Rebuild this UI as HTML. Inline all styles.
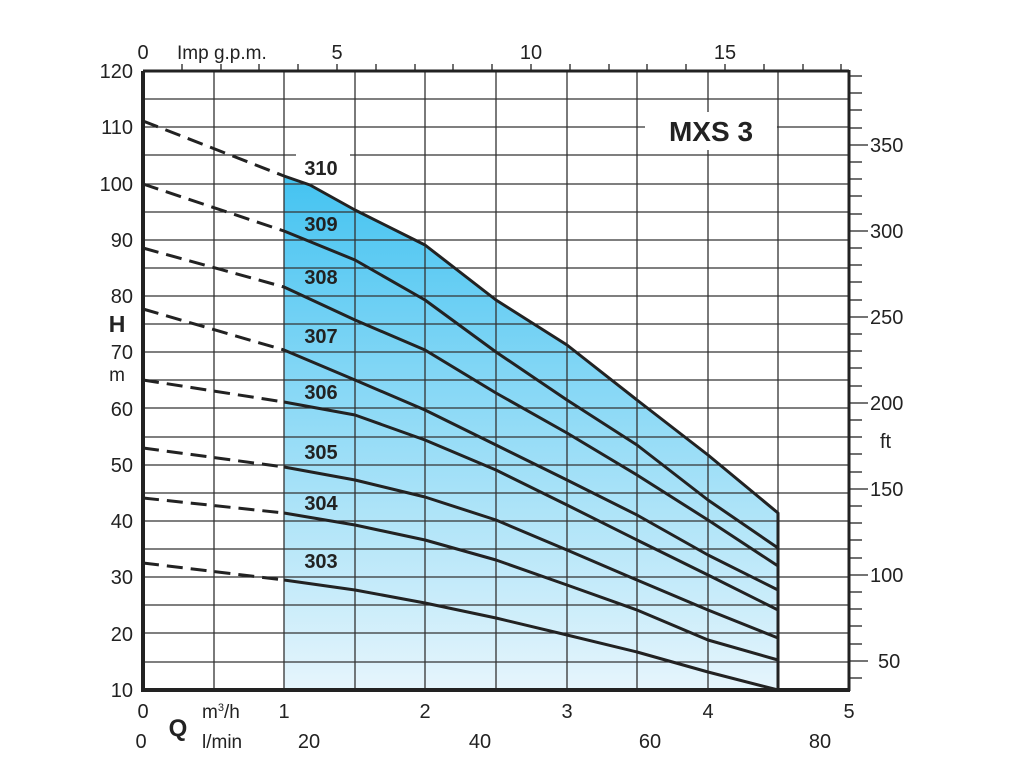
<!DOCTYPE html>
<html><head><style>body{margin:0;background:#fff}svg{display:block}text{font-family:"Liberation Sans",sans-serif;fill:#222}</style></head>
<body>
<svg width="1024" height="768" viewBox="0 0 1024 768">
<defs><linearGradient id="g" x1="0" y1="0" x2="0" y2="1">
<stop offset="0" stop-color="#44c3f1"/><stop offset="1" stop-color="#e6f5fc"/></linearGradient></defs>
<polygon fill="url(#g)" points="284,690 284,176 310,185 355,210 425,245 496,300 567,345 637,400 708,455 778,513 778,690"/>
<g stroke="#333" stroke-width="1.3">
<line x1="214" y1="71" x2="214" y2="690"/><line x1="284" y1="71" x2="284" y2="690"/><line x1="355" y1="71" x2="355" y2="690"/><line x1="425" y1="71" x2="425" y2="690"/><line x1="496" y1="71" x2="496" y2="690"/><line x1="567" y1="71" x2="567" y2="690"/><line x1="637" y1="71" x2="637" y2="690"/><line x1="708" y1="71" x2="708" y2="690"/><line x1="778" y1="71" x2="778" y2="690"/>
<line x1="143" y1="99" x2="849" y2="99"/><line x1="143" y1="127" x2="849" y2="127"/><line x1="143" y1="155" x2="849" y2="155"/><line x1="143" y1="184" x2="849" y2="184"/><line x1="143" y1="212" x2="849" y2="212"/><line x1="143" y1="240" x2="849" y2="240"/><line x1="143" y1="268" x2="849" y2="268"/><line x1="143" y1="296" x2="849" y2="296"/><line x1="143" y1="324" x2="849" y2="324"/><line x1="143" y1="352" x2="849" y2="352"/><line x1="143" y1="380" x2="849" y2="380"/><line x1="143" y1="408" x2="849" y2="408"/><line x1="143" y1="437" x2="849" y2="437"/><line x1="143" y1="465" x2="849" y2="465"/><line x1="143" y1="493" x2="849" y2="493"/><line x1="143" y1="521" x2="849" y2="521"/><line x1="143" y1="549" x2="849" y2="549"/><line x1="143" y1="577" x2="849" y2="577"/><line x1="143" y1="605" x2="849" y2="605"/><line x1="143" y1="633" x2="849" y2="633"/><line x1="143" y1="662" x2="849" y2="662"/>
</g>
<rect x="296" y="150" width="54" height="26" fill="#fff"/>
<rect x="645" y="112" width="132" height="38" fill="#fff"/>
<text x="711" y="141" font-size="28" font-weight="bold" text-anchor="middle">MXS 3</text>
<g fill="none" stroke="#222" stroke-width="3" stroke-dasharray="16,8">
<line x1="143" y1="121" x2="284" y2="176"/><line x1="143" y1="184" x2="284" y2="231"/><line x1="143" y1="248" x2="284" y2="287"/><line x1="143" y1="309" x2="284" y2="350"/><line x1="143" y1="380" x2="284" y2="402"/><line x1="143" y1="448" x2="284" y2="467"/><line x1="143" y1="498" x2="284" y2="513"/><line x1="143" y1="563" x2="284" y2="580"/>
</g>
<g fill="none" stroke="#222" stroke-width="3" stroke-linejoin="round">
<polyline points="284,176 310,185 355,210 425,245 496,300 567,345 637,400 708,455 778,513 778,690"/>
<polyline points="284,231 355,260 425,300 496,352 567,400 637,445 708,500 778,548"/>
<polyline points="284,287 355,320 425,350 496,393 567,433 637,475 708,520 778,566"/>
<polyline points="284,350 355,380 425,410 496,445 567,480 637,515 708,555 778,590"/>
<polyline points="284,402 355,415 425,440 496,470 567,505 637,540 708,575 778,610"/>
<polyline points="284,467 355,480 425,497 496,520 567,550 637,580 708,610 778,638"/>
<polyline points="284,513 355,525 425,540 496,560 567,585 637,610 708,640 778,660"/>
<polyline points="284,580 355,590 425,603 496,618 567,635 637,652 708,672 778,690"/>
</g>
<g font-size="20" font-weight="bold" text-anchor="middle">
<text x="321" y="175">310</text><text x="321" y="231">309</text><text x="321" y="284">308</text><text x="321" y="343">307</text><text x="321" y="399">306</text><text x="321" y="459">305</text><text x="321" y="510">304</text><text x="321" y="568">303</text>
</g>
<g fill="none" stroke="#222">
<line x1="143" y1="71" x2="143" y2="691" stroke-width="4"/>
<line x1="141" y1="690" x2="850" y2="690" stroke-width="4"/>
<line x1="143" y1="71" x2="849" y2="71" stroke-width="3"/>
<line x1="849" y1="70" x2="849" y2="691" stroke-width="3"/>
</g>
<g stroke="#222" stroke-width="1.3">
<line x1="182" y1="71" x2="182" y2="64"/><line x1="221" y1="71" x2="221" y2="64"/><line x1="259" y1="71" x2="259" y2="64"/><line x1="298" y1="71" x2="298" y2="64"/><line x1="337" y1="71" x2="337" y2="64"/><line x1="376" y1="71" x2="376" y2="64"/><line x1="415" y1="71" x2="415" y2="64"/><line x1="453" y1="71" x2="453" y2="64"/><line x1="492" y1="71" x2="492" y2="64"/><line x1="531" y1="71" x2="531" y2="64"/><line x1="570" y1="71" x2="570" y2="64"/><line x1="609" y1="71" x2="609" y2="64"/><line x1="647" y1="71" x2="647" y2="64"/><line x1="686" y1="71" x2="686" y2="64"/><line x1="725" y1="71" x2="725" y2="64"/><line x1="764" y1="71" x2="764" y2="64"/><line x1="803" y1="71" x2="803" y2="64"/><line x1="841" y1="71" x2="841" y2="64"/>
</g>
<g stroke="#222" stroke-width="1.3">
<line x1="849" y1="76" x2="862" y2="76"/><line x1="849" y1="93" x2="862" y2="93"/><line x1="849" y1="110" x2="862" y2="110"/><line x1="849" y1="128" x2="862" y2="128"/><line x1="849" y1="145" x2="868" y2="145"/><line x1="849" y1="162" x2="862" y2="162"/><line x1="849" y1="179" x2="862" y2="179"/><line x1="849" y1="196" x2="862" y2="196"/><line x1="849" y1="214" x2="862" y2="214"/><line x1="849" y1="231" x2="868" y2="231"/><line x1="849" y1="248" x2="862" y2="248"/><line x1="849" y1="265" x2="862" y2="265"/><line x1="849" y1="282" x2="862" y2="282"/><line x1="849" y1="300" x2="862" y2="300"/><line x1="849" y1="317" x2="868" y2="317"/><line x1="849" y1="334" x2="862" y2="334"/><line x1="849" y1="351" x2="862" y2="351"/><line x1="849" y1="368" x2="862" y2="368"/><line x1="849" y1="386" x2="862" y2="386"/><line x1="849" y1="403" x2="868" y2="403"/><line x1="849" y1="420" x2="862" y2="420"/><line x1="849" y1="437" x2="862" y2="437"/><line x1="849" y1="454" x2="862" y2="454"/><line x1="849" y1="472" x2="862" y2="472"/><line x1="849" y1="489" x2="868" y2="489"/><line x1="849" y1="506" x2="862" y2="506"/><line x1="849" y1="523" x2="862" y2="523"/><line x1="849" y1="540" x2="862" y2="540"/><line x1="849" y1="558" x2="862" y2="558"/><line x1="849" y1="575" x2="868" y2="575"/><line x1="849" y1="592" x2="862" y2="592"/><line x1="849" y1="609" x2="862" y2="609"/><line x1="849" y1="626" x2="862" y2="626"/><line x1="849" y1="644" x2="862" y2="644"/><line x1="849" y1="661" x2="868" y2="661"/><line x1="849" y1="678" x2="862" y2="678"/>
</g>
<g font-size="20" text-anchor="end">
<text x="133" y="78">120</text><text x="133" y="134">110</text><text x="133" y="191">100</text><text x="133" y="247">90</text><text x="133" y="303">80</text><text x="133" y="359">70</text><text x="133" y="416">60</text><text x="133" y="472">50</text><text x="133" y="528">40</text><text x="133" y="584">30</text><text x="133" y="641">20</text><text x="133" y="697">10</text>
</g>
<text x="117" y="332" font-size="23" font-weight="bold" text-anchor="middle">H</text>
<text x="117" y="381" font-size="19" text-anchor="middle">m</text>
<g font-size="20">
<text x="870" y="152">350</text><text x="870" y="238">300</text><text x="870" y="324">250</text><text x="870" y="410">200</text><text x="870" y="496">150</text><text x="870" y="582">100</text><text x="878" y="668">50</text><text x="880" y="448">ft</text>
</g>
<g font-size="20" text-anchor="middle">
<text x="143" y="59">0</text><text x="337" y="59">5</text><text x="531" y="59">10</text><text x="725" y="59">15</text>
<text x="143" y="718">0</text><text x="284" y="718">1</text><text x="425" y="718">2</text><text x="567" y="718">3</text><text x="708" y="718">4</text><text x="849" y="718">5</text>
<text x="141" y="748">0</text><text x="309" y="748">20</text><text x="480" y="748">40</text><text x="650" y="748">60</text><text x="820" y="748">80</text>
</g>
<text x="177" y="59" font-size="19">Imp g.p.m.</text>
<text x="202" y="718" font-size="19">m<tspan font-size="11" dy="-7">3</tspan><tspan dy="7">/h</tspan></text>
<text x="202" y="748" font-size="19">l/min</text>
<text x="178" y="736" font-size="24" font-weight="bold" text-anchor="middle">Q</text>
</svg>
</body></html>
